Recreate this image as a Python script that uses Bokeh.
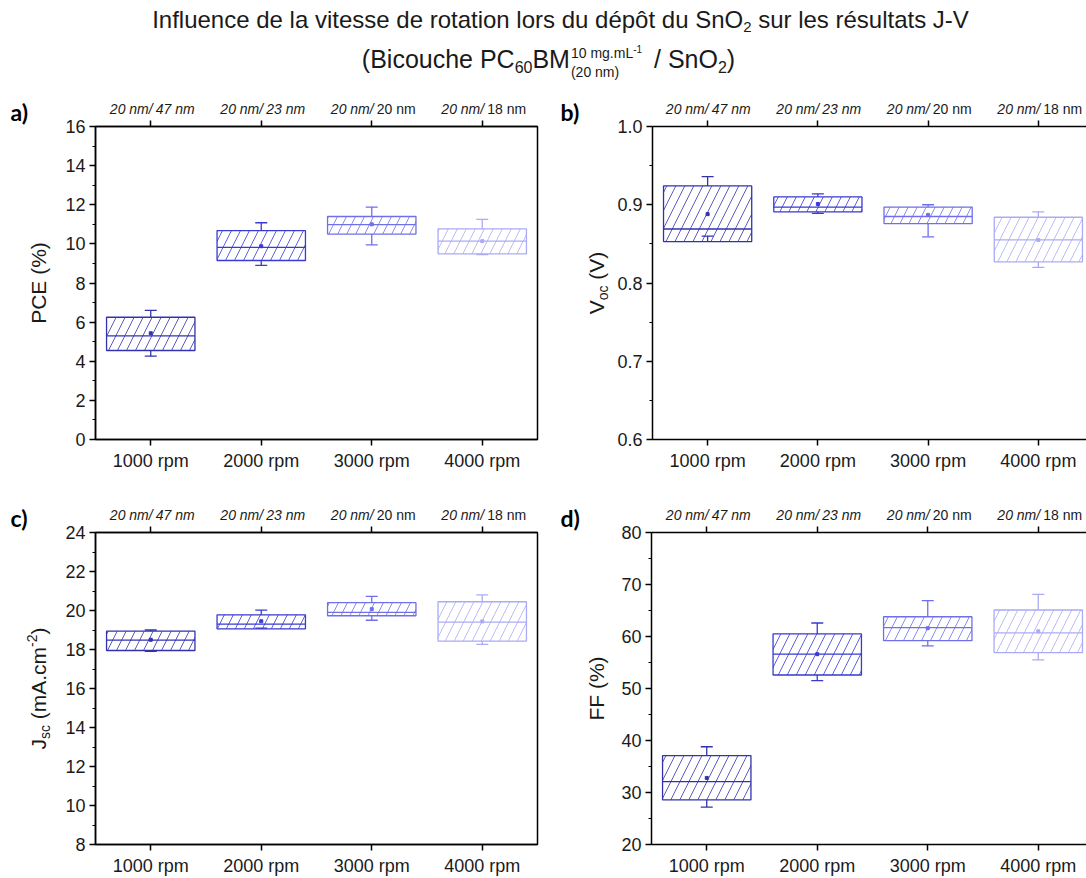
import math
from bokeh.plotting import figure
from bokeh.layouts import column, row
from bokeh.models import (Range1d, LinearAxis, FixedTicker, SingleIntervalTicker, Label,
                          NumeralTickFormatter, ColumnDataSource)
from bokeh.embed import file_html
from bokeh.resources import INLINE

# ---------------- data ----------------
rpm_labels = ["1000 rpm", "2000 rpm", "3000 rpm", "4000 rpm"]
pcbm_thick = ["20 nm", "20 nm", "20 nm", "20 nm"]
sno2_thick = ["47 nm", "23 nm", "20 nm", "18 nm"]
sno2_italic = [True, True, False, False]
box_colors = ["#3232AE", "#3939D4", "#6F6FEA", "#ABABF5"]

pce_min = [4.26, 8.90, 9.95, 9.45]
pce_q1 = [4.55, 9.15, 10.50, 9.49]
pce_med = [5.30, 9.82, 10.98, 10.14]
pce_q3 = [6.25, 10.68, 11.40, 10.77]
pce_max = [6.60, 11.08, 11.88, 11.25]
pce_mean = [5.43, 9.88, 11.00, 10.14]

voc_min = [0.860, 0.889, 0.859, 0.820]
voc_q1 = [0.853, 0.891, 0.876, 0.827]
voc_med = [0.869, 0.897, 0.885, 0.855]
voc_q3 = [0.924, 0.910, 0.897, 0.884]
voc_max = [0.936, 0.914, 0.900, 0.891]
voc_mean = [0.888, 0.901, 0.887, 0.855]

jsc_min = [17.90, 19.10, 19.50, 18.26]
jsc_q1 = [17.95, 19.06, 19.73, 18.43]
jsc_med = [18.48, 19.30, 19.90, 19.40]
jsc_q3 = [18.94, 19.78, 20.40, 20.45]
jsc_max = [19.00, 20.02, 20.72, 20.80]
jsc_mean = [18.50, 19.45, 20.07, 19.44]

ff_min = [27.2, 51.5, 58.2, 55.5]
ff_q1 = [28.6, 52.6, 59.2, 56.9]
ff_med = [32.1, 56.6, 61.7, 60.7]
ff_q3 = [37.1, 60.5, 63.8, 65.1]
ff_max = [38.8, 62.6, 66.9, 68.1]
ff_mean = [32.8, 56.6, 61.6, 61.0]

# ---------------- helpers ----------------
FONT = "Liberation Sans"
TXT = "#1a1a1a"
BL = 0.35   # label anchor -> glyph baseline offset (fraction of font size)
AW = {' ': 278, '(': 333, ')': 333, '-': 333, '.': 278, '/': 278, '%': 889,
      'A': 667, 'B': 667, 'C': 722, 'E': 667, 'F': 611, 'I': 278, 'J': 500, 'L': 556,
      'M': 833, 'O': 778, 'P': 667, 'S': 667, 'V': 667,
      'a': 556, 'b': 556, 'c': 500, 'd': 556, 'e': 556, 'f': 278, 'g': 556, 'h': 556,
      'i': 222, 'l': 222, 'm': 833, 'n': 556, 'o': 556, 'p': 556, 'r': 333, 's': 500,
      't': 278, 'u': 556, 'v': 500, 'é': 556, 'ô': 556}


def tw(s, fs):
    return sum(AW.get(ch, 556) for ch in s) * fs / 1000.0


def run_width(pieces):
    return sum(tw(t, fs) for t, fs, _ in pieces)


def blank_fig(w, h, xr, yr):
    f = figure(width=w, height=h, x_range=xr, y_range=yr, min_border=0,
               toolbar_location=None, output_backend="svg", title=None,
               x_axis_location=None, y_axis_location=None, frame_align=False)
    f.grid.visible = False
    f.outline_line_color = None
    f.background_fill_color = "white"
    f.border_fill_color = "white"
    return f


def hrun(p, x0, y, pieces):
    """horizontal run of text pieces; y = baseline (data units, y axis pointing down)."""
    x = x0
    for text, fs, dy in pieces:
        lead = len(text) - len(text.lstrip(' '))
        t = text.strip(' ')
        p.add_layout(Label(x=x + tw(' ' * lead, fs), y=y + dy - BL * fs, text=t, text_font=FONT,
                           text_font_size=f"{fs}px", text_color=TXT, text_align="left",
                           text_baseline="alphabetic"))
        x += tw(text, fs)


def vrun(p, xb, yc, pieces):
    """rotated run of text pieces; xb = baseline (data units = pixels, y up)."""
    y = yc - run_width(pieces) / 2.0
    for text, fs, dx in pieces:
        lead = len(text) - len(text.lstrip(' '))
        t = text.strip(' ')
        p.add_layout(Label(x=xb + dx - BL * fs, y=y + tw(' ' * lead, fs), angle=math.pi / 2,
                           text=t, text_font=FONT, text_font_size=f"{fs}px", text_color=TXT,
                           text_align="left", text_baseline="alphabetic"))
        y += tw(text, fs)


pos = [i + 1 for i in range(len(rpm_labels))]
BOX_W = 0.8
PPC = 442 / 4.0       # pixels per category
TOP_TICK_B = 8        # plot border above the frame (top axis ticks)
STRIP_H = 34          # strip above each plot (thickness labels)
TOP_FS = 14


def panel_block(q1, med, q3, lo, hi, mean, ylo, yhi, interval, fmt, lb, frame_w, rb,
                frame_h, bot_b, outline, ylabel, ylab_x, letter, letter_x, yw):
    xend = 0.5 + frame_w / PPC
    plot_lb = lb - yw
    pw = plot_lb + frame_w + rb
    ph = TOP_TICK_B + frame_h + bot_b
    p = figure(width=pw, height=ph, x_range=Range1d(0.5, xend), y_range=Range1d(ylo, yhi),
               min_border_left=plot_lb, min_border_right=rb, min_border_top=TOP_TICK_B,
               min_border_bottom=bot_b, toolbar_location=None, output_backend="svg",
               title=None, frame_align=False)
    p.grid.visible = False
    p.background_fill_color = "white"
    p.border_fill_color = "white"
    p.outline_line_color = "black" if outline else None
    p.outline_line_width = 1.5

    xa = p.xaxis[0]
    xa.ticker = FixedTicker(ticks=pos)
    xa.major_label_overrides = {k: v for k, v in zip(pos, rpm_labels)}
    xa.major_label_text_font = FONT
    xa.major_label_text_font_size = "18px"
    xa.major_label_text_color = TXT
    xa.major_label_standoff = 5
    xa.major_tick_in = 0
    xa.major_tick_out = 6
    xa.axis_line_width = 1.5
    xa.major_tick_line_width = 1.5
    xa.axis_line_color = "black"

    ya = p.yaxis[0]
    ya.ticker = SingleIntervalTicker(interval=interval, num_minor_ticks=2)
    if fmt:
        ya.formatter = NumeralTickFormatter(format=fmt)
    ya.major_label_text_font = FONT
    ya.major_label_text_font_size = "18px"
    ya.major_label_text_color = TXT
    ya.major_label_standoff = 4
    ya.major_tick_in = 0
    ya.major_tick_out = 6
    ya.minor_tick_in = 0
    ya.minor_tick_out = 3
    ya.axis_line_width = 1.5
    ya.major_tick_line_width = 1.5
    ya.minor_tick_line_width = 1.2
    ya.axis_line_color = "black"

    top = LinearAxis(ticker=FixedTicker(ticks=pos), major_label_text_color=None,
                     major_label_text_font_size="1px", major_label_standoff=0,
                     major_tick_in=0, major_tick_out=6, major_tick_line_width=1.5,
                     axis_line_width=1.5, axis_line_color="black", minor_tick_line_color=None)
    p.add_layout(top, "above")

    src = ColumnDataSource(dict(
        x=pos, q1=q1, q3=q3, med=med, lo=lo, hi=hi, mean=mean, color=box_colors,
        xl=[x - BOX_W / 2 for x in pos], xr=[x + BOX_W / 2 for x in pos]))
    p.vbar(x="x", width=BOX_W, bottom="q1", top="q3", source=src, fill_color="white",
           line_color="color", line_width=1.3, hatch_pattern="/", hatch_color="color",
           hatch_scale=18, hatch_weight=0.8)
    p.segment(x0="xl", x1="xr", y0="med", y1="med", source=src, line_color="color", line_width=1.3)
    p.segment(x0="x", x1="x", y0="q3", y1="hi", source=src, line_color="color", line_width=1.3)
    p.segment(x0="x", x1="x", y0="q1", y1="lo", source=src, line_color="color", line_width=1.3)
    p.scatter(x="x", y="hi", source=src, marker="dash", size=12, line_color="color", line_width=1.3)
    p.scatter(x="x", y="lo", source=src, marker="dash", size=12, line_color="color", line_width=1.3)
    p.scatter(x="x", y="mean", source=src, marker="square", size=3, line_color="color",
              fill_color="color")

    # strip above the plot, sharing the category scale
    strip = blank_fig(pw, STRIP_H, Range1d(0.5 - plot_lb / PPC, xend + rb / PPC),
                      Range1d(0, STRIP_H))
    yb = 5 + BL * TOP_FS  # baseline 13 px above the frame top
    for i, x in enumerate(pos):
        strip.add_layout(Label(x=x, y=yb, text=pcbm_thick[i], text_font=FONT,
                               text_font_size=f"{TOP_FS}px", text_font_style="italic",
                               text_color=TXT, text_align="right", text_baseline="alphabetic",
                               x_offset=-2))
        strip.add_layout(Label(x=x, y=yb, text="/", text_font=FONT,
                               text_font_size=f"{TOP_FS}px", text_font_style="italic",
                               text_color=TXT, text_align="left", text_baseline="alphabetic",
                               x_offset=-2))
        strip.add_layout(Label(x=x, y=yb, text=sno2_thick[i], text_font=FONT,
                               text_font_size=f"{TOP_FS}px",
                               text_font_style="italic" if sno2_italic[i] else "normal",
                               text_color=TXT, text_align="left", text_baseline="alphabetic",
                               x_offset=5))

    # left column: panel letter + rotated axis title
    lh = STRIP_H + TOP_TICK_B
    lf = blank_fig(yw, lh, Range1d(0, yw), Range1d(0, lh))
    lf.add_layout(Label(x=letter_x, y=6 + BL * 23, text=letter, text_font="Lato",
                        text_font_style="bold", text_font_size="23px", text_color="black",
                        text_align="left", text_baseline="alphabetic"))
    yh = frame_h + bot_b
    yf = blank_fig(yw, yh, Range1d(0, yw), Range1d(0, yh))
    vrun(yf, ylab_x, bot_b + frame_h / 2.0, ylabel)

    return row(column(lf, yf), column(strip, p))


# ---------------- layout ----------------
LB_L, FW_L, RB_L = 95, 442, 20
LB_R, FW_R, RB_R = 94, 435, 0
YW = 57

pa = panel_block(pce_q1, pce_med, pce_q3, pce_min, pce_max, pce_mean, 0, 16, 2, None,
                 LB_L, FW_L, RB_L, 313, 51, True, [("PCE (%)", 21, 0)], 45, "a)", 10, YW)
pb = panel_block(voc_q1, voc_med, voc_q3, voc_min, voc_max, voc_mean, 0.6, 1.0, 0.1, "0.0",
                 LB_R, FW_R, RB_R, 313, 51, False,
                 [("V", 21, 0), ("oc", 14, 4), (" (V)", 21, 0)], 46, "b)", 3, YW)
pc = panel_block(jsc_q1, jsc_med, jsc_q3, jsc_min, jsc_max, jsc_mean, 8, 24, 2, None,
                 LB_L, FW_L, RB_L, 312, 34, True,
                 [("J", 21, 0), ("sc", 14, 4), (" (mA.cm", 21, 0), ("-2", 14, -9), (")", 21, 0)],
                 45, "c)", 10, YW)
pd = panel_block(ff_q1, ff_med, ff_q3, ff_min, ff_max, ff_mean, 20, 80, 10, None,
                 LB_R, FW_R, RB_R, 312, 34, False, [("FF (%)", 21, 0)], 46, "d)", 3, YW)

# title
TOTAL_W = LB_L + FW_L + RB_L + LB_R + FW_R + RB_R
TH = 84
pt = blank_fig(TOTAL_W, TH, Range1d(0, TOTAL_W), Range1d(TH, 0))

line1 = [("Influence de la vitesse de rotation lors du dépôt du SnO", 24, 0), ("2", 15, 5),
         (" sur les résultats J-V", 24, 0)]
hrun(pt, 560 - run_width(line1) / 2.0, 27, line1)

l2a = [("(Bicouche PC", 25, 0), ("60", 16, 5), ("BM", 25, 0)]
sup_txt, sup_exp, sub_txt = "10 mg.mL", "-1", "(20 nm)"
stack_w = max(tw(sup_txt, 14) + tw(sup_exp, 10), tw(sub_txt, 14)) + 6
l2b = [(" / SnO", 25, 0), ("2", 16, 5), (")", 25, 0)]
w2 = run_width(l2a) + stack_w + run_width(l2b)
x2 = 548 - w2 / 2.0
hrun(pt, x2, 67, l2a)
xs = x2 + run_width(l2a) + 1
hrun(pt, xs, 57, [(sup_txt, 14, 0), (sup_exp, 10, -5)])
hrun(pt, xs, 76, [(sub_txt, 14, 0)])
hrun(pt, x2 + run_width(l2a) + stack_w, 67, l2b)

layout = column(pt, row(pa, pb), row(pc, pd))

open("out.html", "w").write(file_html(layout, INLINE))
